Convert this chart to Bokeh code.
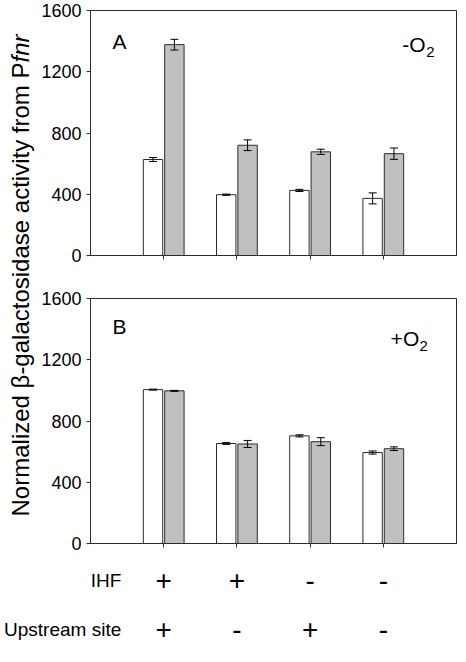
from bokeh.plotting import figure
from bokeh.models import ColumnDataSource, Range1d, FixedTicker, Whisker, TeeHead, Label
from bokeh.layouts import column, row
from bokeh.transform import dodge
from bokeh.core.properties import value
from bokeh.embed import file_html
from bokeh.resources import INLINE
import math

# ---------------- data ----------------
groups = [1, 2, 3, 4]
y_ticks = [0, 400, 800, 1200, 1600]

a_white = [627, 397, 425, 373]
a_white_err = [13, 4, 7, 36]
a_grey = [1377, 720, 677, 665]
a_grey_err = [35, 35, 17, 37]

b_white = [1005, 653, 703, 594]
b_white_err = [3, 6, 7, 10]
b_grey = [997, 650, 665, 619]
b_grey_err = [3, 23, 26, 12]

ihf = ["+", "+", "-", "-"]
upstream = ["+", "-", "+", "-"]
row_names = ["IHF", "Upstream site"]

ylabel_main = "Normalized \u03b2-galactosidase activity from P"
ylabel_ital = "fnr"

FONT = "Liberation Sans"
INK = "#2b2b2b"
GREY = "#c0c0c0"

# ---------------- layout constants ----------------
LAB_W = 36
PANEL_W = 422
BORDER_L = 54
BORDER_R = 2
FRAME_W = PANEL_W - BORDER_L - BORDER_R
X_END = 5
UNIT = FRAME_W / X_END
HA = 276
HB = 277
HT = 93

shared_x = Range1d(0, X_END)


def make_panel(white, werr, grey, gerr, letter, sign, letter_y, sign_y,
               border_top, border_bottom, height):
    src = ColumnDataSource(dict(
        x=groups, white=white, grey=grey,
        w_lo=[v - e for v, e in zip(white, werr)],
        w_hi=[v + e for v, e in zip(white, werr)],
        g_lo=[v - e for v, e in zip(grey, gerr)],
        g_hi=[v + e for v, e in zip(grey, gerr)],
    ))
    p = figure(width=PANEL_W, height=height, x_range=shared_x, y_range=Range1d(0, 1600),
               output_backend="svg", toolbar_location=None,
               min_border_left=BORDER_L, min_border_right=BORDER_R,
               min_border_top=border_top, min_border_bottom=border_bottom)
    p.grid.visible = False
    p.outline_line_color = INK
    p.background_fill_color = "white"

    p.vbar(x=dodge("x", -0.146), top="white", width=0.265, source=src,
           fill_color="white", line_color=INK, line_width=1)
    p.vbar(x=dodge("x", 0.146), top="grey", width=0.265, source=src,
           fill_color=GREY, line_color=INK, line_width=1)

    for base, lo, hi in ((dodge("x", -0.146), "w_lo", "w_hi"), (dodge("x", 0.146), "g_lo", "g_hi")):
        w = Whisker(base=base, lower=lo, upper=hi, source=src, dimension="height",
                    line_color="black", line_width=1,
                    lower_head=TeeHead(size=8, line_color="black", line_width=1),
                    upper_head=TeeHead(size=8, line_color="black", line_width=1))
        w.level = "overlay"
        p.add_layout(w)

    ya = p.yaxis[0]
    ya.ticker = FixedTicker(ticks=y_ticks)
    ya.major_label_text_font = FONT
    ya.major_label_text_font_size = "18px"
    ya.major_label_text_color = "black"
    ya.major_tick_out = 4
    ya.major_tick_in = 0
    ya.minor_tick_out = 0
    ya.minor_tick_in = 0
    ya.major_label_standoff = 5
    ya.axis_line_color = INK
    ya.major_tick_line_color = INK

    xa = p.xaxis[0]
    xa.ticker = FixedTicker(ticks=groups)
    xa.major_label_text_color = None
    xa.major_label_text_font_size = "0px"
    xa.major_label_standoff = 0
    xa.major_tick_out = 4
    xa.major_tick_in = 0
    xa.minor_tick_out = 0
    xa.minor_tick_in = 0
    xa.axis_line_color = INK
    xa.major_tick_line_color = INK

    p.add_layout(Label(x=0.3, y=letter_y, text=letter, text_font=FONT,
                       text_font_size="21px", text_baseline="middle", text_color="black"))
    sx = 4.26 if sign == "-" else 4.1
    main = sign + "O"
    p.add_layout(Label(x=sx, y=sign_y, text=main, text_font=FONT,
                       text_font_size="21px", text_baseline="middle", text_color="black"))
    off = 24 if sign == "-" else 29
    p.add_layout(Label(x=sx, y=sign_y, x_offset=off, y_offset=-7, text="2", text_font=FONT,
                       text_font_size="15px", text_baseline="middle", text_color="black"))
    return p


pa = make_panel(a_white, a_white_err, a_grey, a_grey_err, "A", "-", 1400, 1377,
                border_top=10, border_bottom=21, height=HA)
pb = make_panel(b_white, b_white_err, b_grey, b_grey_err, "B", "+", 1415, 1338,
                border_top=22, border_bottom=10, height=HB)

# y axis label figure
lab_h = HA + HB
lab = figure(width=LAB_W, height=lab_h, x_range=Range1d(0, LAB_W), y_range=Range1d(lab_h, 0),
             output_backend="svg", toolbar_location=None,
             x_axis_location=None, y_axis_location=None, min_border=0)
lab.grid.visible = False
lab.outline_line_color = None
lab.text(x=[20], y=[62], text=[ylabel_main], angle=math.pi / 2,
         text_align="right", text_baseline="alphabetic",
         text_font=value(FONT), text_font_size="24px", text_color="black")
lab.text(x=[20], y=[62], text=[ylabel_ital], angle=math.pi / 2,
         text_align="left", text_baseline="alphabetic",
         text_font=value(FONT), text_font_style="italic",
         text_font_size="24px", text_color="black")

# table of conditions (frame spans full width; x mapping equals the panels')
TAB_W = LAB_W + PANEL_W
tab_left_px = LAB_W + BORDER_L
tab = figure(width=TAB_W, height=HT,
             x_range=Range1d(-tab_left_px / UNIT, X_END), y_range=Range1d(-0.35, 1.55),
             output_backend="svg", toolbar_location=None,
             x_axis_location=None, y_axis_location=None,
             min_border_left=0, min_border_right=BORDER_R, min_border_top=0, min_border_bottom=0)
tab.grid.visible = False
tab.outline_line_color = None
tsrc = ColumnDataSource(dict(x=groups + groups, y=[1] * 4 + [0] * 4, s=ihf + upstream))
tab.text(x="x", y="y", text="s", source=tsrc, text_align="center", text_baseline="middle",
         text_font=value(FONT), text_font_size="28px", text_color="black")
rsrc = ColumnDataSource(dict(x=[0.42, 0.42], y=[1, 0], s=row_names))
tab.text(x="x", y="y", text="s", source=rsrc, text_align="right", text_baseline="middle",
         text_font=value(FONT), text_font_size="19px", text_color="black")

layout = column(row(lab, column(pa, pb)), tab)
open("out.html", "w").write(file_html(layout, INLINE))
